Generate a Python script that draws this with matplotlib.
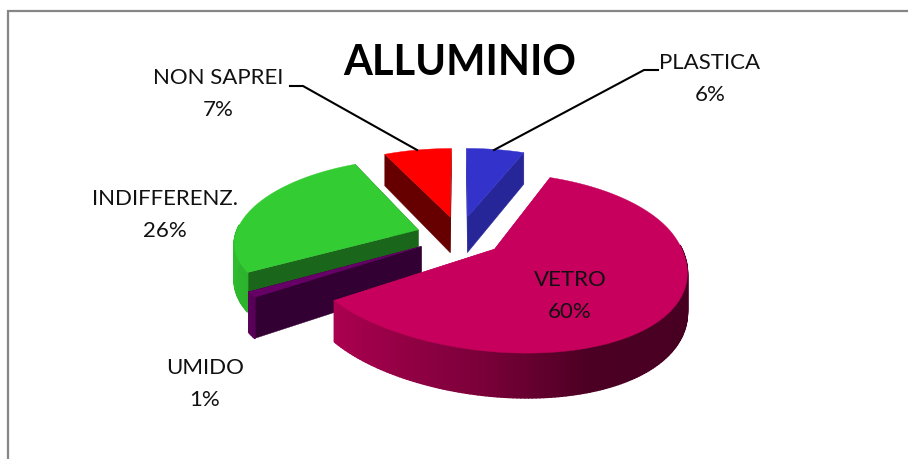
"""Exploded 3D style pie, drawn by hand because matplotlib has no perspective pie."""

import matplotlib
matplotlib.use("Agg")
import matplotlib.pyplot as plt
import numpy as np
from matplotlib.collections import PolyCollection
from matplotlib.colors import to_rgb

labels = ["PLASTICA", "VETRO", "UMIDO", "INDIFFERENZ.", "NON SAPREI"]
values = [6, 60, 1, 26, 7]
title = "ALLUMINIO"

top_colors = ["#3333cc", "#c6005c", "#660066", "#33cc33", "#ff0000"]
wall_colors = ["#262699", "#c6005c", "#330033", "#1a661a", "#660000"]
draw_order = [4, 0, 3, 2, 1]

# label centres and leader lines, pixel coordinates of the figure
label_pos = [(710, 79), (570, 296), (205, 384), (165, 215), (218, 94)]
leaders = [[(658, 70), (644, 70), (494, 150)], [(290, 86), (303, 86), (417, 150)]]

CX, CY = 459.5, 236
RX, RY = 183, 84
PERSP = 0.15
EXPLODE = 0.24
HEIGHT = 37
LEAN = 20  # the front of the pie leans to the right


def project(u, v, z=0.0):
    d = 1 + PERSP * v
    lean = LEAN * min(v, 0) ** 2
    return CX + lean + RX * u / d, CY + (z - RY * v) / d


def arc_shade(u):
    # bright on the left of the pie, dark from just right of the middle
    return np.interp(u, [-1.0, -0.2, 0.3, 1.0], [0.92, 0.62, 0.38, 0.36])


def draw_slice(ax, start, stop, top_color, wall_color, zorder):
    mid = np.radians((start + stop) / 2)
    ox, oy = EXPLODE * np.sin(mid), EXPLODE * np.cos(mid)
    theta = np.radians(np.arange(start, stop + 0.5, 1.0))
    theta[-1] = np.radians(stop)
    us = ox + np.sin(theta)
    vs = oy + np.cos(theta)

    # the two cut faces go first, the back facing one must not cover the outer wall
    for k in (0, -1):
        wall = [project(ox, oy), project(us[k], vs[k]),
                project(us[k], vs[k], HEIGHT), project(ox, oy, HEIGHT)]
        ax.fill(*zip(*wall), color=wall_color, lw=0.3, zorder=zorder)

    # outer wall as thin quads so the shading can run along it, front half only
    quads, shades = [], []
    base = np.array(to_rgb(top_color))
    for i in range(len(theta) - 1):
        if np.cos(theta[i]) > 0.05:
            continue
        quads.append([project(us[i], vs[i]), project(us[i + 1], vs[i + 1]),
                      project(us[i + 1], vs[i + 1], HEIGHT), project(us[i], vs[i], HEIGHT)])
        shades.append(base * arc_shade(np.sin(theta[i])))
    ax.add_collection(PolyCollection(quads, facecolors=shades, edgecolors=shades,
                                     linewidths=1.2, zorder=zorder + 0.1))

    # top face
    outline = [project(ox, oy)] + [project(a, b) for a, b in zip(us, vs)]
    ax.fill(*zip(*outline), color=top_color, lw=0.3, zorder=zorder + 0.2)


plt.rcParams["font.family"] = ["Lato", "DejaVu Sans"]

fig = plt.figure(figsize=(9.08, 4.59), dpi=100, facecolor="white")
ax = fig.add_axes([0, 0, 1, 1])
ax.set_xlim(0, 908)
ax.set_ylim(459, 0)
ax.axis("off")

# chart frame runs off the right and bottom of the crop
ax.plot([7.5, 7.5, 908], [459, 11, 11], color="#868686", lw=1.6, solid_joinstyle="miter")

edges = np.cumsum([0] + values) / sum(values) * 360
for n, idx in enumerate(draw_order):
    draw_slice(ax, edges[idx], edges[idx + 1], top_colors[idx], wall_colors[idx], 2 + n)

for line in leaders:
    ax.plot(*zip(*line), color="black", lw=1.5, zorder=20)

for name, val, (x, y) in zip(labels, values, label_pos):
    ax.text(x, y, f"{name}\n{val}%", ha="center", va="center", fontsize=16,
            color="#111111", linespacing=1.7, zorder=21)

ax.text(460, 63, title, ha="center", va="center", fontsize=30, fontweight="bold",
        color="black", zorder=21)

fig.savefig("out.png", dpi=100)
